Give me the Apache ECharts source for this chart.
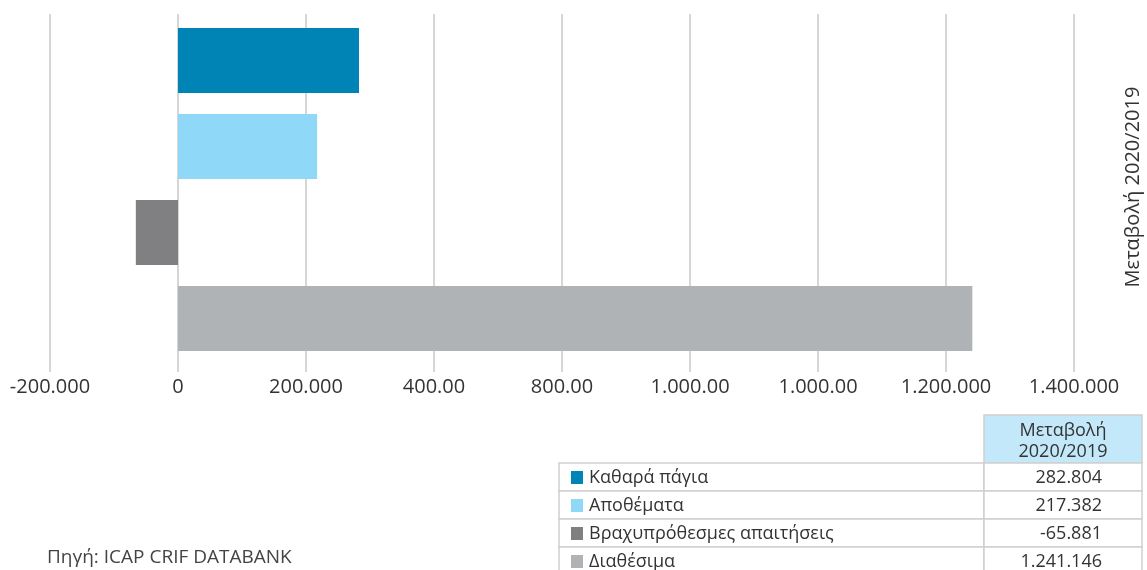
<!DOCTYPE html>
<html>
<head>
<meta charset="utf-8">
<script src="https://cdn.jsdelivr.net/npm/echarts@6/dist/echarts.min.js"></script>
<style>
html,body{margin:0;padding:0;background:#fff;}
#chart{width:1147px;height:570px;}
</style>
</head>
<body>
<div id="chart"></div>
<script>
// ---- data ----
const categories = ['Καθαρά πάγια', 'Αποθέματα', 'Βραχυπρόθεσμες απαιτήσεις', 'Διαθέσιμα'];
const values = [282804, 217382, -65881, 1241146];
const valueLabels = ['282.804', '217.382', '-65.881', '1.241.146'];
const tickLabels = ['-200.000', '0', '200.000', '400.00', '800.00', '1.000.00', '1.000.00', '1.200.000', '1.400.000'];
const seriesTitle = 'Μεταβολή 2020/2019';
const headerLines = ['Μεταβολή', '2020/2019'];
const sourceText = 'Πηγή: ICAP CRIF DATABANK';

// ---- styles ----
const barColors = ['#0083b5', '#8fd8f7', '#808083', '#b0b3b6'];
const FONT = '"Open Sans", "Noto Sans", sans-serif';
const AX_MIN = -200000, AX_MAX = 1400000, AX_INT = 200000;

const chart = echarts.init(document.getElementById('chart'));

// table graphic
const tbl = { left: 559, mid: 984, right: 1142, headTop: 415, headBot: 463, rowH: 28 };
const g = [];
g.push({ type: 'rect', shape: { x: tbl.mid, y: tbl.headTop, width: tbl.right - tbl.mid, height: tbl.headBot - tbl.headTop },
  style: { fill: '#c3e8f9', stroke: '#d0d0d0', lineWidth: 1.5 } });
headerLines.forEach((t, i) => {
  g.push({ type: 'text', x: (tbl.mid + tbl.right) / 2, y: 431 + i * 21,
    style: { text: t, fill: '#333', font: '18px ' + FONT, textAlign: 'center', textVerticalAlign: 'middle' } });
});
categories.forEach((c, i) => {
  const y0 = tbl.headBot + i * tbl.rowH;
  g.push({ type: 'rect', shape: { x: tbl.left, y: y0, width: tbl.mid - tbl.left, height: tbl.rowH },
    style: { fill: '#fff', stroke: '#d0d0d0', lineWidth: 1.5 } });
  g.push({ type: 'rect', shape: { x: tbl.mid, y: y0, width: tbl.right - tbl.mid, height: tbl.rowH },
    style: { fill: '#fff', stroke: '#d0d0d0', lineWidth: 1.5 } });
  g.push({ type: 'rect', shape: { x: 571, y: y0 + 8, width: 12, height: 13 }, style: { fill: barColors[i] } });
  g.push({ type: 'text', x: 589, y: y0 + 15,
    style: { text: c, fill: '#333', font: '18px ' + FONT, textAlign: 'left', textVerticalAlign: 'middle' } });
  g.push({ type: 'text', x: 1102, y: y0 + 15,
    style: { text: valueLabels[i], fill: '#333', font: '18px ' + FONT, textAlign: 'right', textVerticalAlign: 'middle' } });
});
g.push({ type: 'text', x: 47, y: 558,
  style: { text: sourceText, fill: '#444', font: '19px ' + FONT, textAlign: 'left', textVerticalAlign: 'middle' } });
g.push({ type: 'text', x: 1133, y: 187, rotation: Math.PI / 2,
  style: { text: seriesTitle, fill: '#333', font: '20px ' + FONT, textAlign: 'center', textVerticalAlign: 'middle' } });

chart.setOption({
  animation: false,
  textStyle: { fontFamily: FONT },
  grid: [
    { left: 50, right: 73, top: 17.5, height: 344, containLabel: false },
    { left: 50, right: 73, top: 14, height: 358, containLabel: false }
  ],
  xAxis: [
    { gridIndex: 0, type: 'value', min: AX_MIN, max: AX_MAX, interval: AX_INT,
      axisLine: { show: false }, axisTick: { show: false }, axisLabel: { show: false }, splitLine: { show: false } },
    { gridIndex: 1, type: 'value', min: AX_MIN, max: AX_MAX, interval: AX_INT,
      axisLine: { show: false }, axisTick: { show: false },
      splitLine: { show: true, lineStyle: { color: '#c8c8c8', width: 1.5 } },
      axisLabel: { show: true, color: '#333', fontSize: 20, fontFamily: FONT, margin: 5,
        formatter: v => tickLabels[Math.round((v - AX_MIN) / AX_INT)] } }
  ],
  yAxis: [
    { gridIndex: 0, type: 'category', data: categories, inverse: true,
      axisLine: { show: false }, axisTick: { show: false }, axisLabel: { show: false }, splitLine: { show: false } },
    { gridIndex: 1, type: 'category', data: categories, show: false }
  ],
  series: [{
    type: 'bar', xAxisIndex: 0, yAxisIndex: 0, barWidth: 65,
    data: values.map((v, i) => ({ value: v, itemStyle: { color: barColors[i] } }))
  }],
  graphic: g
});
</script>
</body>
</html>
